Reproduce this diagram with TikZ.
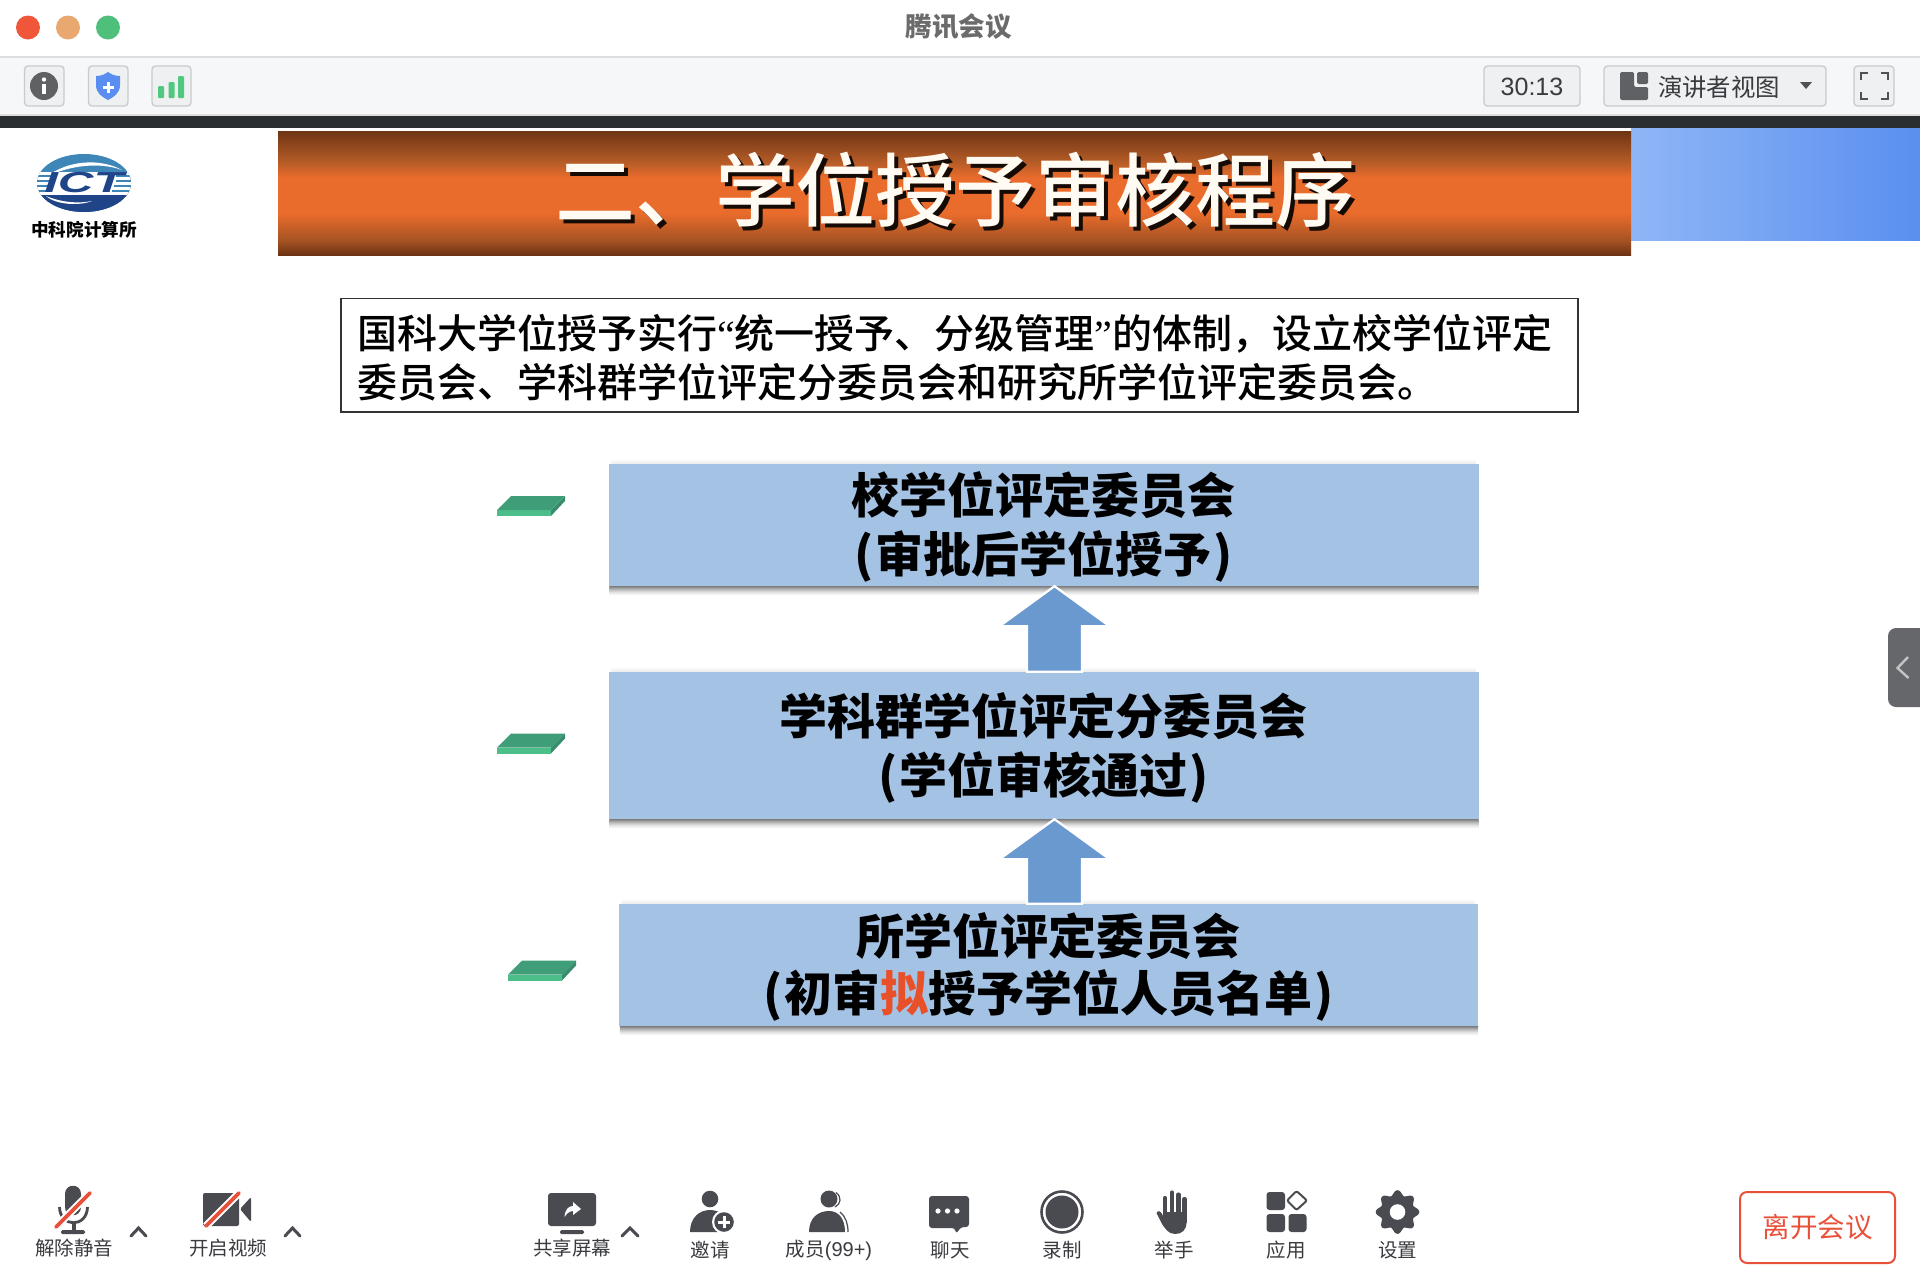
\documentclass[tikz,border=0pt]{standalone}
\usepackage{fontspec}
\setmainfont{Noto Sans CJK SC}
\newfontfamily\medfont{Noto Sans CJK SC Medium}
\newfontfamily\latfont{Liberation Sans}
\newfontfamily\quotefont{Liberation Serif}
\usetikzlibrary{calc}
\definecolor{icondark}{HTML}{4A4B50}
\definecolor{labeltext}{HTML}{3A3B3F}
\definecolor{barfill}{HTML}{F6F7F9}
\definecolor{btnfill}{HTML}{EEF0F2}
\definecolor{btnline}{HTML}{C8CACD}
\definecolor{darkbar}{HTML}{2B2E31}
\definecolor{leavered}{HTML}{E8503A}
\definecolor{boxblue}{HTML}{A4C2E3}
\definecolor{arrowblue}{HTML}{6A99D0}
\definecolor{orangemid}{HTML}{EA6C2C}
\definecolor{brownedge}{HTML}{6E3413}
\definecolor{slabtop}{HTML}{3F9E78}
\definecolor{slabfront}{HTML}{4BBE8A}
\definecolor{slabside}{HTML}{3A8C6E}
\definecolor{ictblue}{HTML}{1F4488}
\definecolor{ictlight}{HTML}{3F86B8}
\definecolor{trafred}{HTML}{F0563A}
\definecolor{trafamber}{HTML}{E9A870}
\definecolor{trafgreen}{HTML}{4FBF7C}
\definecolor{icongrey}{HTML}{5F6164}
\definecolor{shieldblue}{HTML}{5A8DF0}
\definecolor{signalgreen}{HTML}{50C97F}
\definecolor{fsdark}{HTML}{505155}
\definecolor{bandleft}{HTML}{8FB6F6}
\definecolor{bandright}{HTML}{5A8FF0}
\definecolor{orangeA}{HTML}{B85D28}
\definecolor{orangeB}{HTML}{A85423}
\definecolor{brownB}{HTML}{6A3212}
\definecolor{titlewhite}{HTML}{FFFBF2}
\definecolor{redchar}{HTML}{E8502A}
\definecolor{tabgrey}{HTML}{65676A}
\definecolor{tabmark}{HTML}{C4C4C4}
\definecolor{dropA}{HTML}{FFFFFF}
\definecolor{dropB}{HTML}{E4E4E4}
\definecolor{dropC}{HTML}{B4B4B4}
\definecolor{dropD}{HTML}{808080}
\pgfdeclareverticalshading{bannershade}{100bp}{color(0bp)=(brownB); color(25bp)=(brownB); color(31.4bp)=(orangeB); color(42.2bp)=(orangemid); color(56.2bp)=(orangemid); color(62.2bp)=(orangeA); color(75bp)=(brownedge); color(100bp)=(brownedge)}
\pgfdeclareverticalshading{dropshade}{100bp}{color(0bp)=(dropA); color(25bp)=(dropA); color(42bp)=(dropB); color(60bp)=(dropC); color(75bp)=(dropD); color(100bp)=(dropD)}
\tikzset{
  x=1pt,y=-1pt,
  toolbtn/.style={fill=btnfill,draw=btnline,line width=1.3pt,rounded corners=3.5pt},
  tlabel/.style={font=\fontsize{19.5}{20}\selectfont,text=labeltext,inner sep=0pt},
  chevronup/.style={draw=icondark,line width=3pt,line cap=round,line join=miter},
  slash/.style={draw=leavered,line width=3.6pt,line cap=round},
  slashbg/.style={draw=white,line width=7.5pt},
  stepbox/.style={fill=boxblue,inner sep=0pt,align=center,font=\fontsize{48}{59}\selectfont\bfseries,text=black},
  blockarrow/.style={fill=arrowblue,draw=white,line width=2.2pt,line join=miter},
}
\newcommand{\firstline}{\rule{0pt}{46.5pt}}
\newcommand{\slabshape}[2]{%
  \begin{scope}[shift={(#1,#2)}]
    \fill[slabfront] (0,14) -- (54,14) -- (54,20) -- (0,20) -- cycle;
    \fill[slabside] (54,14) -- (68,0) -- (68,5) -- (54,20) -- cycle;
    \fill[slabtop] (14,0) -- (68,0) -- (54,14) -- (0,14) -- cycle;
  \end{scope}}
\newcommand{\upblock}[2]{% tip node-side, base node-side
  \coordinate (ax) at (1054.5,0);
  \coordinate (atip) at (ax |- #1.south);
  \coordinate (abase) at (ax |- #2.north);
  \path[blockarrow] (atip) -- ([shift={(55,40)}]atip) -- ([shift={(27.5,40)}]atip)
     -- ([xshift=27.5pt]abase) -- ([xshift=-27.5pt]abase)
     -- ([shift={(-27.5,40)}]atip) -- ([shift={(-55,40)}]atip) -- cycle;}
\newcommand{\boxshadow}[1]{%
  \shade[shading=dropshade] ([xshift=1pt]#1.south west) rectangle ([yshift=-9pt]#1.south east);
  \shade[top color=white,bottom color=black!8] ([xshift=3pt,yshift=5pt]#1.north west) rectangle ([xshift=-3pt]#1.north east);}
\begin{document}
\begin{tikzpicture}
\useasboundingbox (0,0) rectangle (1920,1280);
\fill[white] (0,0) rectangle (1920,1280);

% window bars
\fill[barfill] (0,58) rectangle (1920,115);
\fill[black!13] (0,56) rectangle (1920,58);
\fill[black!13] (0,114) rectangle (1920,116);
\fill[darkbar] (0,116) rectangle (1920,128);
\fill[trafred] (28,27.5) circle[radius=12pt];
\fill[trafamber] (68,27.5) circle[radius=12pt];
\fill[trafgreen] (108,27.5) circle[radius=12pt];
\node[inner sep=0pt,font=\fontsize{26.5}{27}\selectfont\bfseries,text=black!58] (wintitle) at (958.5,27) {腾讯会议};

% toolbar left
\draw[toolbtn] (24.5,66) rectangle (64,106);
\fill[icongrey] (44,86) circle[radius=14pt];
\fill[white] (44,79.5) circle[radius=2.2pt];
\fill[white] (42,84) rectangle (46,94);
\draw[toolbtn] (88.5,66) rectangle (128,106);
\fill[shieldblue] (108,72) .. controls (112,75) and (116,76) .. (120,76) -- (120,85) .. controls (120,93) and (114,97) .. (108,100) .. controls (102,97) and (96,93) .. (96,85) -- (96,76) .. controls (100,76) and (104,75) .. (108,72) -- cycle;
\fill[white] (106.5,82) rectangle (109.5,93);
\fill[white] (102.5,86) rectangle (113.5,89);
\draw[toolbtn] (152,66) rectangle (191,106);
\fill[signalgreen,rounded corners=1pt] (158,86) rectangle (164,98);
\fill[signalgreen,rounded corners=1pt] (168.5,82) rectangle (174.5,98);
\fill[signalgreen,rounded corners=1pt] (178,76) rectangle (184,98);

% toolbar right
\draw[toolbtn] (1484,66) rectangle (1580,106);
\node[inner sep=0pt,font=\latfont\fontsize{25}{26}\selectfont,text=labeltext] (timer) at (1532,87) {30:13};
\draw[toolbtn] (1604,66) rectangle (1826,106);
\fill[icongrey,rounded corners=1.5pt] (1620,72) -- (1634,72) -- (1634,87) -- (1648,87) -- (1648,100) -- (1620,100) -- cycle;
\fill[icongrey,rounded corners=1.5pt] (1637,72) rectangle (1648,84);
\node[inner sep=0pt,font=\fontsize{24.4}{25}\selectfont,text=labeltext] (viewmode) at (1719,87) {演讲者视图};
\fill[fsdark] (1800,82) -- (1812,82) -- (1806,89) -- cycle;
\draw[toolbtn] (1854,66) rectangle (1894,106);
\draw[draw=fsdark,line width=2.8pt] (1861,80) -- (1861,73) -- (1868,73);
\draw[draw=fsdark,line width=2.8pt] (1881,73) -- (1888,73) -- (1888,80);
\draw[draw=fsdark,line width=2.8pt] (1861,92) -- (1861,99) -- (1868,99);
\draw[draw=fsdark,line width=2.8pt] (1881,99) -- (1888,99) -- (1888,92);

% blue band and banner
\shade[left color=bandleft,right color=bandright] (1631,128) rectangle (1920,240);
\shade[shading=bannershade] (278,131) rectangle (1631,255.5);
\node[inner sep=0pt,font=\medfont\fontsize{80}{80}\selectfont,text=black!80!brownedge] (titleshade) at (959,194) {二、学位授予审核程序};
\node[inner sep=0pt,font=\medfont\fontsize{80}{80}\selectfont,text=titlewhite] (slidetitle) at (955,190) {二、学位授予审核程序};

% logo
\begin{scope}
  \clip (84,183) ellipse[x radius=47pt,y radius=29pt];
  \fill[ictlight] (30,150) rectangle (140,215);
  \fill[ictblue] (30,194) .. controls (60,196) and (95,190) .. (135,176) -- (140,215) -- (30,215) -- cycle;
  \fill[white] (30,172) rectangle (140,195);
  \fill[white] (46,177) .. controls (68,160) and (100,158) .. (122,170) .. controls (100,162) and (70,165) .. (46,177) -- cycle;
  \fill[white] (46,196) .. controls (56,205) and (80,206) .. (92,201) .. controls (78,204) and (60,202) .. (46,196) -- cycle;
  \fill[ictlight] (30,175) rectangle (56,177);
  \fill[ictlight] (30,180) rectangle (52,182);
  \fill[ictlight] (30,185) rectangle (50,187);
  \fill[ictlight] (30,190) rectangle (48,192);
  \fill[ictlight] (116,175) rectangle (140,177);
  \fill[ictlight] (116,180) rectangle (140,182);
  \fill[ictlight] (114,185) rectangle (140,187);
  \fill[ictlight] (112,190) rectangle (140,192);
\end{scope}
\node[inner sep=0pt,font=\latfont\fontsize{29}{29}\selectfont\bfseries\itshape,text=ictblue,xscale=1.7] (ictmark) at (84,183) {ICT};
\node[inner sep=0pt,font=\fontsize{17.6}{18}\selectfont\bfseries,text=black] (ictname) at (84,229.5) {中科院计算所};

% intro box
\draw[draw=black!80,line width=1.5pt,fill=white] (341,298.5) rectangle (1578,412);
\node[inner sep=0pt,text width=1205pt,
      font=\medfont\fontsize{40}{49}\selectfont,text=black,align=left] (intro) at (959.5,357.5)
  {国科大学位授予实行{\quotefont “}统一授予、分级管理{\quotefont ”}的体制，设立校学位评定\\委员会、学科群学位评定分委员会和研究所学位评定委员会。};

% step boxes
\node[stepbox,minimum width=870pt,minimum height=122pt] (b1) at (1043.5,525) {\firstline 校学位评定委员会\\(\kern2pt 审批后学位授予\kern2pt)};
\node[stepbox,minimum width=870pt,minimum height=147pt] (b2) at (1043.5,745.5) {\firstline 学科群学位评定分委员会\\(\kern2pt 学位审核通过\kern2pt)};
\node[stepbox,minimum width=859pt,minimum height=122pt,font=\fontsize{48}{57}\selectfont\bfseries] (b3) at (1048.5,965) {\firstline 所学位评定委员会\\(\kern2pt 初审{\color{redchar}拟}授予学位人员名单\kern2pt)};
\boxshadow{b1}\boxshadow{b2}\boxshadow{b3}

% block arrows
\upblock{b1}{b2}
\upblock{b2}{b3}

% green slabs
\slabshape{497}{496}
\slabshape{497}{733.5}
\slabshape{508}{960.5}

% side tab
\fill[tabgrey,rounded corners=8pt] (1888,628) rectangle (1935,707);
\draw[draw=tabmark,line width=2.4pt] (1908,657) -- (1897.5,668) -- (1908.5,678);

% bottom: mute
\fill[icondark] (65,1194) .. controls (65,1183) and (81,1183) .. (81,1194) -- (81,1207) .. controls (81,1218) and (65,1218) .. (65,1207) -- cycle;
\draw[icondark,line width=2.8pt] (59.5,1207) .. controls (60,1228) and (87,1228) .. (87.5,1207);
\fill[icondark] (71.5,1222) rectangle (75.5,1231);
\fill[icondark,rounded corners=1.5pt] (61,1230) rectangle (85,1234);
\draw[slashbg] (90,1193) -- (56,1227);
\draw[slash] (90,1193) -- (56,1227);
\node[tlabel] (lmute) at (74,1248.5) {解除静音};
\draw[chevronup] (131,1236) -- (138.5,1228) -- (146,1236);

% video
\fill[icondark,rounded corners=2pt] (203,1193) rectangle (239,1226);
\fill[icondark,rounded corners=1.5pt] (240,1209) -- (251,1197) -- (251,1222) -- cycle;
\draw[slashbg] (239,1193) -- (206,1226);
\draw[slash] (239,1193) -- (206,1226);
\node[tlabel] (lvideo) at (228,1248.5) {开启视频};
\draw[chevronup] (285,1236) -- (292.5,1228) -- (300,1236);

% share
\fill[icondark,rounded corners=3pt] (548,1193) rectangle (596,1226);
\fill[icondark,rounded corners=1.5pt] (560,1230) rectangle (584,1234);
\fill[white] (564.5,1217) .. controls (565,1209) and (569,1206) .. (573,1206) -- (573,1202) -- (581,1209) -- (573,1215) -- (573,1211) .. controls (570,1211) and (567,1213) .. (564.5,1217) -- cycle;
\node[tlabel] (lshare) at (572,1248.5) {共享屏幕};
\draw[chevronup] (622,1236) -- (630,1228) -- (638,1236);

% invite
\fill[icondark] (710,1199) circle[radius=8.3pt];
\fill[icondark] (690,1232) .. controls (690,1218) and (699,1210) .. (710,1210) .. controls (721,1210) and (730,1218) .. (730,1232) -- cycle;
\fill[white] (724,1222) circle[radius=12pt];
\fill[icondark] (724,1222) circle[radius=9.8pt];
\fill[white] (722.5,1216) rectangle (725.5,1228);
\fill[white] (718,1220.5) rectangle (730,1223.5);
\node[tlabel] (linvite) at (710,1250.5) {邀请};

% members
\fill[icondark] (829,1199) circle[radius=8.5pt];
\draw[icondark,line width=1.2pt] (836,1192.5) .. controls (842,1197) and (841,1204) .. (835,1207);
\fill[icondark] (809,1232) .. controls (809,1218) and (818,1211) .. (829,1211) .. controls (838,1211) and (845,1218) .. (845,1232) -- cycle;
\draw[icondark,line width=1.2pt] (840,1212) .. controls (846,1217) and (848,1224) .. (848,1232);
\node[tlabel] (lmembers) at (829,1250.5) {成员{\latfont\fontsize{20}{20}\selectfont (99+)}};

% chat
\fill[icondark,rounded corners=3pt] (929,1196) -- (969,1196) -- (969,1227) -- (961,1227) -- (956,1234) -- (955,1228) -- (929,1228) -- cycle;
\fill[white] (938,1211) circle[radius=2.6pt];
\fill[white] (947.5,1211) circle[radius=2.6pt];
\fill[white] (957,1211) circle[radius=2.6pt];
\node[tlabel] (lchat) at (950,1250.5) {聊天};

% record
\draw[icondark,line width=2.6pt] (1062,1212) circle[radius=20.5pt];
\fill[icondark] (1062,1212) circle[radius=16.5pt];
\node[tlabel] (lrecord) at (1062,1250.5) {录制};

% raise hand
\draw[icondark,line width=4.2pt,line cap=round] (1165,1222) -- (1165,1198);
\draw[icondark,line width=4.2pt,line cap=round] (1172,1222) -- (1172,1192.5);
\draw[icondark,line width=4.2pt,line cap=round] (1178.5,1222) -- (1178.5,1194.5);
\draw[icondark,line width=4.2pt,line cap=round] (1184.5,1222) -- (1184.5,1199);
\fill[icondark] (1163,1212) -- (1186.5,1212) -- (1186.5,1222) .. controls (1186.5,1230) and (1182,1234) .. (1175,1234) .. controls (1168,1234) and (1165,1228) .. (1162,1224) -- (1156.5,1213) .. controls (1158,1209) and (1162,1212) .. (1163,1216) -- cycle;
\node[tlabel] (lhand) at (1174,1250.5) {举手};

% apps
\fill[icondark,rounded corners=3pt] (1266.5,1192) rectangle (1285,1210);
\fill[icondark,rounded corners=3pt] (1266.5,1214) rectangle (1285,1232);
\fill[icondark,rounded corners=3pt] (1288.5,1214) rectangle (1306.5,1232);
\draw[icondark,line width=2pt,rounded corners=2pt] (1296.5,1191) -- (1307,1200.5) -- (1296.5,1210) -- (1287,1200.5) -- cycle;
\node[tlabel] (lapps) at (1286,1250.5) {应用};

% settings
\fill[icondark] plot[domain=0:360,samples=160,smooth] ({1397.5+(19.4+2.4*cos(8*\x))*cos(\x)},{1212+(19.4+2.4*cos(8*\x))*sin(\x)}) -- cycle;
\fill[white] (1397.5,1212) circle[radius=7.8pt];
\node[tlabel] (lsettings) at (1397.5,1250.5) {设置};

% leave
\node[draw=leavered,line width=2pt,rounded corners=7pt,minimum width=155pt,minimum height=71pt,inner sep=0pt,
      font=\fontsize{27.5}{28}\selectfont,text=leavered] (leave) at (1817.5,1227.5) {离开会议};
\end{tikzpicture}
\end{document}
